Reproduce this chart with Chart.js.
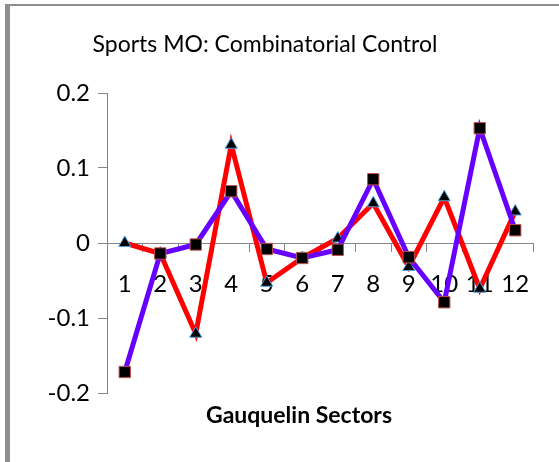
<!DOCTYPE html>
<html>
<head>
<meta charset="utf-8">
<script src="https://cdn.jsdelivr.net/npm/chart.js@4.4.1/dist/chart.umd.min.js"></script>
<style>
    html, body { margin: 0; padding: 0; background: #fff; }
    #wrap { position: relative; width: 559px; height: 462px; overflow: hidden; }
    #frame {
        position: absolute; left: 5px; top: 4px; right: 0; bottom: 0;
        border-left: 5px solid #8e8e8e;
        border-top: 2px solid #8e8e8e;
        pointer-events: none;
    }
    canvas { position: absolute; left: 0; top: 0; }
</style>
</head>
<body>
<div id="wrap">
    <canvas id="chart" width="559" height="462"></canvas>
    <div id="frame"></div>
</div>
<script>
const sectors = ['1', '2', '3', '4', '5', '6', '7', '8', '9', '10', '11', '12'];
// red line, triangle markers
const seriesRed = [0, -0.014, -0.121, 0.131, -0.053, -0.02, 0.006, 0.053, -0.032, 0.061, -0.061, 0.042];
// purple line, square markers
const seriesPurple = [-0.172, -0.014, -0.002, 0.069, -0.008, -0.02, -0.009, 0.085, -0.019, -0.079, 0.153, 0.017];
const yTicks = [-0.2, -0.1, 0, 0.1, 0.2];
const yTickLabels = ['-0.2', '-0.1', '0', '0.1', '0.2'];
const chartTitle = 'Sports MO: Combinatorial Control';
const xTitle = 'Gauquelin Sectors';

const FONT = 'Lato, "Open Sans", sans-serif';
const AXIS_GREY = '#868686';

// title and axis title drawn at fixed spots, like the original sheet
const textPlugin = {
    id: 'sheetText',
    afterDraw(chart) {
        const ctx = chart.ctx;
        ctx.save();
        ctx.fillStyle = '#000';
        ctx.textAlign = 'center';
        ctx.textBaseline = 'alphabetic';
        ctx.font = '23px ' + FONT;
        ctx.fillText(chartTitle, 265, 52);
        ctx.font = 'bold 23px ' + FONT;
        ctx.fillText(xTitle, 299, 423);
        ctx.restore();
    }
};

const ctx = document.getElementById('chart').getContext('2d');

new Chart(ctx, {
    type: 'line',
    data: {
        labels: sectors,
        datasets: [
            {
                label: 'Squares',
                data: seriesPurple,
                borderColor: '#6600ff',
                borderWidth: 5,
                tension: 0,
                pointStyle: 'rect',
                pointRadius: 8,
                pointBackgroundColor: '#000',
                pointBorderColor: '#c0504d',
                pointBorderWidth: 1
            },
            {
                label: 'Triangles',
                data: seriesRed,
                borderColor: '#ff0000',
                borderWidth: 5,
                tension: 0,
                pointStyle: 'triangle',
                pointRadius: 7,
                pointBackgroundColor: '#000',
                pointBorderColor: '#4f9fdc',
                pointBorderWidth: 1
            }
        ]
    },
    options: {
        responsive: false,
        animation: false,
        layout: {
            padding: { left: 40, right: 26, top: 93, bottom: 69 }
        },
        plugins: {
            legend: { display: false },
            tooltip: { enabled: false },
            title: { display: false }
        },
        scales: {
            x: {
                position: { y: 0 },
                offset: true,
                grid: {
                    offset: true,
                    drawOnChartArea: false,
                    drawTicks: true,
                    tickLength: 8,
                    color: AXIS_GREY
                },
                border: { display: true, color: AXIS_GREY, width: 1 },
                ticks: {
                    color: '#000',
                    font: { family: FONT, size: 24 },
                    padding: 19,
                    maxRotation: 0,
                    autoSkip: false
                }
            },
            y: {
                min: -0.2,
                max: 0.2,
                afterFit: (scale) => { scale.width = 67; },
                afterBuildTicks: (scale) => {
                    scale.ticks = yTicks.map(v => ({ value: v }));
                },
                grid: {
                    drawOnChartArea: false,
                    drawTicks: true,
                    tickLength: 9,
                    color: AXIS_GREY
                },
                border: { display: true, color: AXIS_GREY, width: 1 },
                ticks: {
                    color: '#000',
                    font: { family: FONT, size: 24 },
                    padding: 8,
                    callback: function (value) {
                        const i = yTicks.indexOf(Math.round(value * 10) / 10);
                        return i >= 0 ? yTickLabels[i] : '';
                    }
                }
            }
        }
    },
    plugins: [textPlugin]
});
</script>
</body>
</html>
